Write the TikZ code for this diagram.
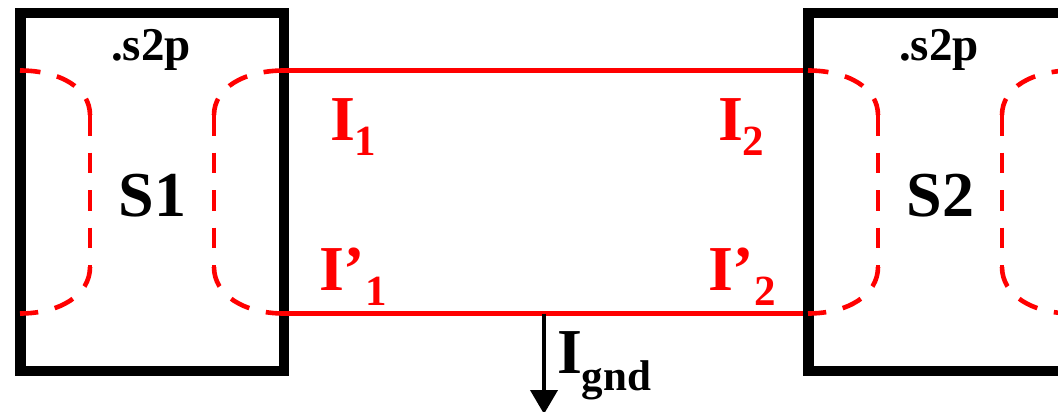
\documentclass[tikz,border=0pt]{standalone}
\usepackage{fontspec}
\setmainfont{Liberation Serif}
\usetikzlibrary{arrows.meta}
\newcommand{\bigfont}{\fontsize{64}{64}\selectfont\bfseries}
\newcommand{\subfont}{\fontsize{43}{43}\selectfont\bfseries}
\newcommand{\extfont}{\fontsize{47}{47}\selectfont\bfseries}
\newcommand{\lowered}[2]{\raisebox{-#1pt}{\subfont #2}}
% port cloud: edge x, control x, inner x
\newcommand{\portcurve}[3]{%
  \draw[cloud] (#1,70.5) .. controls (#2,70.5) and (#3,88) .. (#3,115);
  \draw[cloud] (#3,115) -- (#3,267);
  \draw[cloud] (#3,267) .. controls (#3,295) and (#2,313.5) .. (#1,313.5);
}
\tikzset{
  x=1pt,y=-1pt,
  port box/.style={draw=black,line width=10.5pt,minimum width=263.5pt,minimum height=358pt,inner sep=0pt,outer sep=0pt,fill=white},
  label/.style={inner sep=0pt,outer sep=0pt,anchor=base west},
  wire/.style={draw=red,line width=5pt},
  cloud/.style={draw=red,line width=4.6pt,dash pattern=on 20.5pt off 17pt},
  red text/.style={text=red},
  ground arrow/.style={draw=black,line width=4pt,-{Triangle[length=24pt,width=27pt]}}
}
\begin{document}
\begin{tikzpicture}
\useasboundingbox (0,0) rectangle (1058,412);
\node[port box] (s1) at (152.25,192) {};
\node[port box] (s2) at (940.25,192) {};
\coordinate (a1) at (284,70.5);
\coordinate (a2) at (803,70.5);
\coordinate (b1) at (284,313.5);
\coordinate (b2) at (803,313.5);
\coordinate (g) at (544,313.5);
\coordinate (gend) at (544,414);
\draw[wire] (a1) -- (a2);
\draw[wire] (b1) -- (b2);
\draw[ground arrow] (g) -- (gend);
\portcurve{20}{60}{90}
\portcurve{284}{244}{214}
\portcurve{808}{848}{878}
\portcurve{1072}{1032}{1002}
\node[label] (t1) at (111,60) {\extfont .s2p};
\node[label] (t2) at (899,60) {\extfont .s2p};
\node[label] (n1) at (118.5,216) {\bigfont S1};
\node[label] (n2) at (906.5,216) {\bigfont S2};
\node[label,red text] (i1) at (330,140) {\bigfont I\lowered{15}{1}};
\node[label,red text] (i2) at (718,140) {\bigfont I\lowered{15}{2}};
\node[label,red text] (ip1) at (319,290) {\bigfont I’\lowered{15}{1}};
\node[label,red text] (ip2) at (708,290) {\bigfont I’\lowered{15}{2}};
\node[label] (ig) at (557,373) {\bigfont I\lowered{17}{gnd}};
\end{tikzpicture}
\end{document}
